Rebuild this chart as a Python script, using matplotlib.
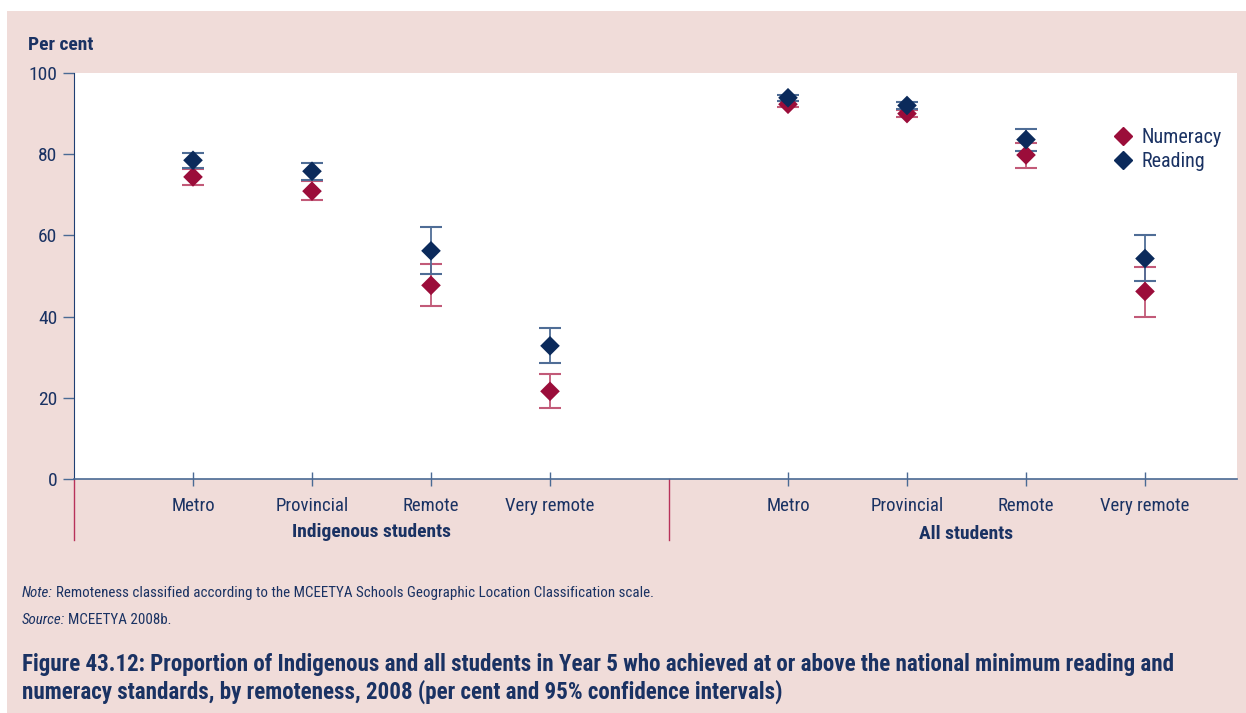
import matplotlib
matplotlib.use("Agg")
import matplotlib.pyplot as plt
from matplotlib.patches import Rectangle
from matplotlib.lines import Line2D

plt.rcParams['font.family'] = ['Roboto Condensed', 'DejaVu Sans']

# Data
categories = ["Metro", "Provincial", "Remote", "Very remote"]
groups = ["Indigenous students", "All students"]

indig_num = [74.4, 70.9, 47.7, 21.6]
indig_num_lo = [72.4, 68.7, 42.5, 17.4]
indig_num_hi = [76.4, 73.3, 53.0, 25.8]
indig_read = [78.5, 75.8, 56.2, 32.8]
indig_read_lo = [76.6, 73.6, 50.4, 28.6]
indig_read_hi = [80.4, 77.9, 62.0, 37.1]

all_num = [92.3, 90.0, 79.8, 46.2]
all_num_lo = [91.6, 89.2, 76.7, 39.9]
all_num_hi = [93.0, 90.8, 82.8, 52.1]
all_read = [93.9, 92.0, 83.6, 54.3]
all_read_lo = [93.2, 91.2, 80.9, 48.7]
all_read_hi = [94.6, 92.8, 86.1, 60.0]

yticks = [0, 20, 40, 60, 80, 100]

NAVY = "#0b2a5b"
CRIMSON = "#9b0d3a"
TEXT = "#1a3263"
PINK = "#f0dcd9"

W, H = 1246, 713
fig = plt.figure(figsize=(W / 100, H / 100), dpi=100)
fig.patch.set_facecolor("white")
fig.add_artist(Rectangle((7 / W, 0), 1 - 7 / W, 1 - 11 / H, transform=fig.transFigure,
                         facecolor=PINK, edgecolor="none", zorder=-10))

ax = fig.add_axes([74 / W, 1 - 479 / H, (1237 - 74) / W, (479 - 73) / H])
ax.set_facecolor("white")

x_ind = [1, 2, 3, 4]
x_all = [6, 7, 8, 9]

def plot_series(xs, vals, lo, hi, color, ecolor):
    err = [[v - l for v, l in zip(vals, lo)], [h - v for v, h in zip(vals, hi)]]
    ax.errorbar(xs, vals, yerr=err, fmt="none", ecolor=ecolor, elinewidth=1.3,
                capsize=8.2, capthick=1.5, zorder=2)
    ax.scatter(xs, vals, marker="D", s=100, color=color, edgecolors="none", zorder=3)

plot_series(x_ind, indig_num, indig_num_lo, indig_num_hi, CRIMSON, "#c25a78")
plot_series(x_ind, indig_read, indig_read_lo, indig_read_hi, NAVY, "#4f6d96")
plot_series(x_all, all_num, all_num_lo, all_num_hi, CRIMSON, "#c25a78")
plot_series(x_all, all_read, all_read_lo, all_read_hi, NAVY, "#4f6d96")

ax.set_xlim(0, (1237 - 74) / 119)
ax.set_ylim(0, 100)
ax.set_yticks(yticks)
ax.set_yticklabels([str(t) for t in yticks])
ax.set_xticks(x_ind + x_all)
ax.set_xticklabels(categories + categories)
ax.tick_params(axis="y", direction="out", length=8, width=1, color="#4a6a94",
               labelsize=14, labelcolor=TEXT, pad=4)
ax.tick_params(axis="x", direction="inout", length=10, width=1, color="#4a6a94",
               labelsize=13.5, labelcolor=TEXT, pad=8)
for s in ["top", "right"]:
    ax.spines[s].set_visible(False)
ax.spines["left"].set_color("#1f3f73")
ax.spines["bottom"].set_color("#4a6a94")
ax.spines["bottom"].set_linewidth(1.2)

# Separator lines below axis
for xp in [0, 5]:
    ax.add_line(Line2D([xp, xp], [0, -15], color="#b8325a", lw=1, clip_on=False,
                       transform=ax.transData))

# Group labels
ax.text(2.5, -13.1, groups[0], ha="center", va="center", fontsize=14,
        fontweight="bold", color=TEXT)
ax.text(7.5, -13.6, groups[1], ha="center", va="center", fontsize=14,
        fontweight="bold", color=TEXT)

# Legend
handles = [Line2D([], [], marker="D", color=CRIMSON, ls="none", markersize=9.5),
           Line2D([], [], marker="D", color=NAVY, ls="none", markersize=9.5)]
leg = ax.legend(handles, ["Numeracy", "Reading"], loc="upper left",
                bbox_to_anchor=(0.885, 0.885), frameon=False, fontsize=14.5,
                handletextpad=0.3, labelspacing=0.28, borderaxespad=0,
                handlelength=1.2)
for t in leg.get_texts():
    t.set_color(TEXT)

# Axis title
fig.text(28 / W, 1 - 45 / H, "Per cent", fontsize=14, fontweight="bold",
         color=TEXT, ha="left", va="center")

# Notes
note_lab = fig.text(22 / W, 1 - 597 / H, "Note:", fontsize=10.8, style="italic",
                    color=TEXT, ha="left", va="baseline")
src_lab = fig.text(22 / W, 1 - 624 / H, "Source:", fontsize=10.8, style="italic",
                   color=TEXT, ha="left", va="baseline")
fig.canvas.draw()
r = fig.canvas.get_renderer()
nx = note_lab.get_window_extent(r).x1 / W + 3 / W
sx = src_lab.get_window_extent(r).x1 / W + 3 / W
fig.text(nx, 1 - 597 / H,
         "Remoteness classified according to the MCEETYA Schools Geographic Location Classification scale.",
         fontsize=10.8, color=TEXT, ha="left", va="baseline")
fig.text(sx, 1 - 624 / H, "MCEETYA 2008b.", fontsize=10.8, color=TEXT,
         ha="left", va="baseline")

# Title
fig.text(22 / W, 1 - 665 / H,
         "Figure 43.12: Proportion of Indigenous and all students in Year 5 who achieved at or above the national minimum reading and",
         fontsize=16.6, fontweight="bold", color=TEXT, ha="left", va="center")
fig.text(22 / W, 1 - 692 / H,
         "numeracy standards, by remoteness, 2008 (per cent and 95% confidence intervals)",
         fontsize=16.6, fontweight="bold", color=TEXT, ha="left", va="center")

fig.savefig("out.png", dpi=100, facecolor=fig.get_facecolor())
